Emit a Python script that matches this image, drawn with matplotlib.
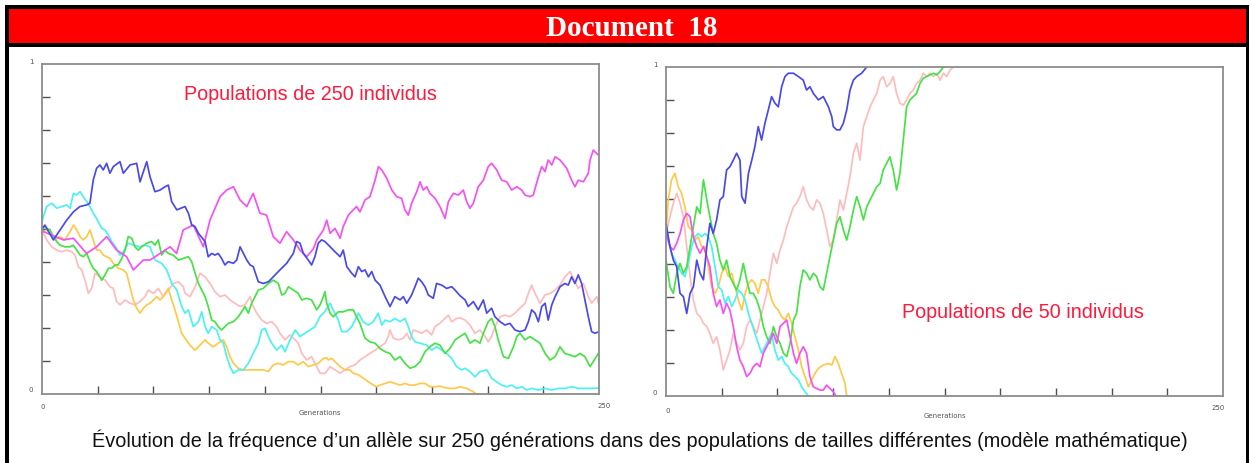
import matplotlib
matplotlib.use("Agg")
import matplotlib.pyplot as plt
from matplotlib.patches import Rectangle

# ---------------- data (generation, allele frequency) ----------------
LEFT_BLUE = [(0,.50),(1.3,.512),(5.1,.467),(8.1,.497),(11.1,.527),(14.1,.552),(17,.568),(20,.573),(21.5,.578),(23,.648),(24.5,.684),(26,.694),(27.5,.679),(29,.699),(30.5,.669),(32,.689),(35,.704),(36.5,.669),(39.5,.694),(42.5,.699),(44,.643),(47,.704),(48.5,.658),(50.7,.613),(53,.618),(55.2,.628),(56.7,.633),(58.2,.583),(60.5,.558),(64.2,.568),(65.7,.548),(67.2,.512),(68.7,.507),(70.2,.487),(73.2,.462),(74.6,.416),(76.2,.426),(77.6,.421),(79.1,.426),(80.6,.411),(82.1,.391),(83.6,.401),(85.9,.396),(87.4,.406),(88.9,.446),(90.4,.426),(91.9,.406),(93.4,.391),(94.8,.386),(97.1,.340),(99.3,.335),(101.6,.340),(103.8,.355),(106.8,.376),(109.8,.396),(112.8,.426),(114.3,.462),(115.8,.457),(117.3,.426),(119.5,.406),(121,.391),(122.5,.416),(124,.457),(125.5,.467),(127,.462),(129.3,.446),(131.5,.431),(133.8,.416),(135.2,.436),(136.8,.386),(139,.366),(140.5,.355),(142,.386),(143.5,.371),(145,.376),(146.5,.355),(148,.371),(149.5,.345),(151.7,.330),(154,.295),(156.2,.265),(158.4,.295),(160.7,.285),(162.2,.295),(163.7,.275),(165.9,.300),(167.4,.325),(168.9,.351),(170.4,.340),(171.9,.325),(173.4,.300),(175.6,.290),(177.1,.335),(179.4,.330),(181.6,.320),(183.9,.325),(185.4,.315),(187.6,.298),(189.9,.285),(191.3,.265),(193.6,.280),(195.8,.255),(198.1,.285),(199.6,.245),(201.8,.260),(203.3,.234),(205.6,.219),(207.8,.209),(210,.214),(212.3,.194),(214.5,.189),(216.8,.194),(218.3,.219),(219.8,.255),(221.3,.245),(222.8,.219),(224.3,.265),(225.8,.275),(227.2,.224),(228.8,.270),(230.3,.295),(232.5,.325),(234.7,.335),(236.2,.330),(237.7,.355),(239.2,.335),(240.7,.361),(242.2,.335),(243.7,.285),(245.2,.234),(246.7,.189),(248.2,.184),(250,.189)]

LEFT_MAGENTA = [(0,.50),(0.6,.492),(9.6,.467),(14.1,.472),(20,.426),(24.5,.446),(29,.477),(33.5,.436),(38,.416),(41,.376),(42.5,.386),(45.5,.406),(48.5,.406),(53,.426),(57.5,.446),(60.4,.426),(63.4,.497),(67.9,.512),(72.4,.446),(75.4,.527),(79.9,.598),(82.9,.618),(85.9,.628),(88.9,.588),(91.9,.568),(94.8,.608),(97.8,.548),(100.8,.542),(103.8,.477),(106.8,.457),(109.8,.492),(112.8,.467),(115.8,.436),(118.8,.416),(121.8,.440),(123.3,.467),(126.3,.497),(127.8,.527),(129.3,.487),(131.5,.502),(133.8,.472),(135.2,.507),(137.5,.542),(139.7,.558),(141.2,.568),(142.7,.552),(145,.588),(147.2,.598),(149.5,.648),(151,.689),(152.5,.679),(154.7,.654),(157,.618),(159.2,.598),(161.4,.593),(162.9,.558),(164.4,.542),(165.9,.578),(168.2,.613),(169.7,.643),(171.1,.618),(172.7,.628),(174.1,.608),(176.4,.593),(178.6,.568),(180.9,.532),(182.4,.583),(184.6,.608),(186.9,.603),(189.1,.618),(190.6,.583),(192.1,.563),(193.6,.578),(195.8,.628),(198.1,.648),(200.3,.689),(201.8,.699),(204.1,.679),(206.3,.648),(208.6,.643),(210.8,.618),(213.1,.628),(215.3,.618),(216.8,.603),(219,.598),(220.5,.603),(222.8,.658),(224.3,.689),(225.8,.674),(227.2,.709),(228.8,.694),(230.3,.719),(232.5,.709),(235.5,.684),(237.7,.648),(239.2,.628),(240.7,.648),(243,.643),(245.2,.669),(246,.709),(247.4,.739),(249.7,.724)]

LEFT_CYAN = [(0,.52),(0.6,.537),(2.1,.568),(4.4,.578),(6.6,.563),(8.8,.568),(11.1,.573),(12.6,.563),(14.1,.608),(15.6,.603),(17.1,.613),(18.5,.598),(20.1,.583),(21.5,.568),(23,.548),(24.5,.532),(26.8,.502),(28.3,.497),(29.8,.482),(31.3,.462),(33.5,.441),(35,.421),(36.5,.431),(38.7,.457),(41,.451),(44,.446),(46.2,.451),(48.5,.446),(50.7,.406),(52.2,.401),(53.7,.396),(56,.376),(58.2,.335),(60.5,.315),(62.7,.265),(64.2,.245),(65.7,.255),(67.9,.204),(70.2,.219),(71.7,.249),(73.2,.204),(74.6,.184),(76.2,.204),(78.4,.194),(79.9,.164),(81.4,.154),(82.9,.113),(84.4,.083),(85.9,.063),(88.1,.073),(90.4,.073),(92.6,.093),(94.8,.123),(97.1,.154),(98.6,.194),(100.1,.199),(101.6,.174),(103.1,.154),(105.3,.133),(107.6,.148),(109.1,.128),(111.3,.164),(113.6,.194),(115.8,.174),(118,.184),(120.3,.194),(122.5,.204),(124.8,.235),(127,.250),(129.3,.275),(130.7,.255),(133,.224),(134.5,.189),(136.8,.189),(139,.204),(140.5,.224),(142,.245),(144.2,.219),(146.5,.209),(148.7,.219),(150.9,.245),(152.5,.209),(154,.224),(156.2,.219),(158.4,.229),(160.7,.219),(162.9,.229),(164.4,.204),(165.9,.174),(167.4,.158),(169.7,.154),(172.7,.148),(174.9,.133),(177.1,.143),(179.4,.133),(181.6,.123),(183.9,.108),(186.1,.083),(188.4,.073),(189.9,.078),(192.1,.068),(194.3,.052),(196.6,.068),(199.6,.073),(201.8,.048),(204.1,.037),(206.3,.027),(208.6,.022),(210.8,.027),(213.1,.017),(215.3,.022),(217.6,.012),(219.8,.017),(222.8,.012),(225.8,.017),(228.8,.012),(231.7,.017),(234.7,.017),(237.7,.022),(240.7,.017),(243.7,.017),(246.7,.017),(250,.018)]

LEFT_GREEN = [(0,.50),(0.6,.507),(2.1,.502),(3.6,.497),(5.1,.477),(6.6,.462),(8.1,.451),(10.3,.446),(12.6,.446),(14.1,.451),(15.6,.436),(17.1,.421),(18.5,.416),(20.1,.426),(21.5,.401),(23,.381),(24.5,.371),(26,.355),(26.8,.345),(28.3,.361),(29.8,.381),(31.3,.381),(32.8,.391),(34.2,.391),(35.8,.411),(37.3,.436),(38.7,.477),(40.3,.472),(41.7,.446),(43.2,.436),(44.7,.446),(47,.457),(49.2,.462),(50.7,.451),(52.2,.467),(53.7,.421),(55.2,.436),(56.7,.426),(58.9,.421),(61.2,.406),(63.4,.411),(65.7,.416),(67.2,.401),(68.7,.366),(70.2,.335),(71.7,.315),(73.2,.295),(74.6,.265),(76.2,.224),(77.6,.219),(79.1,.204),(80.6,.194),(82.1,.204),(83.6,.214),(85.9,.219),(88.1,.234),(89.6,.249),(91.1,.265),(92.6,.245),(94.1,.275),(95.6,.295),(97.1,.315),(99.3,.320),(101.6,.335),(103.8,.345),(106.1,.335),(107.6,.300),(109.1,.305),(110.6,.325),(112.8,.315),(115,.305),(116.6,.285),(118.8,.290),(121,.285),(123.3,.255),(124.8,.270),(126.3,.295),(127,.310),(127.8,.275),(129.3,.245),(130.7,.234),(133,.249),(135.2,.249),(137.5,.255),(139.7,.255),(141.2,.234),(142.7,.214),(145,.169),(147.2,.158),(149.5,.154),(151.7,.138),(154,.128),(156.2,.123),(158.4,.103),(160.7,.113),(162.9,.093),(165.2,.078),(167.4,.083),(169.7,.098),(171.9,.128),(174.1,.143),(176.4,.154),(178.6,.148),(180.9,.123),(183.1,.138),(185.4,.164),(187.6,.174),(189.9,.184),(192.1,.154),(194.3,.164),(196.6,.154),(198.1,.184),(200.3,.219),(201.8,.229),(203.3,.204),(204.8,.164),(207.1,.113),(209.3,.108),(211.6,.143),(213.1,.174),(214.5,.184),(216.8,.164),(219,.174),(221.3,.164),(223.5,.154),(225.8,.123),(228,.103),(230.3,.113),(232.5,.143),(234.7,.123),(237,.118),(239.2,.113),(241.5,.123),(243.7,.113),(246,.083),(247.4,.098),(249.7,.123)]

LEFT_ORANGE = [(0,.50),(0.6,.492),(2.1,.497),(3.6,.487),(5.8,.467),(8.1,.477),(10.3,.467),(12.6,.492),(14.1,.512),(15.6,.497),(17.1,.477),(18.5,.467),(20.1,.477),(21.5,.497),(23,.467),(24.5,.436),(26,.436),(27.5,.421),(29,.416),(30.5,.411),(32,.396),(34.2,.381),(36.5,.376),(38,.366),(39.5,.325),(41,.285),(42.5,.260),(44,.245),(45.5,.260),(47,.270),(48.5,.275),(50,.285),(51.5,.295),(53,.285),(54.4,.295),(56.7,.320),(58.2,.285),(59.7,.255),(61.2,.219),(62.7,.184),(64.2,.169),(66.4,.148),(68.7,.133),(70.9,.148),(73.2,.164),(74.6,.154),(76.9,.143),(79.1,.154),(81.4,.164),(82.9,.143),(84.4,.113),(85.9,.093),(88.1,.078),(90.4,.073),(92.6,.073),(94.8,.073),(97.1,.073),(99.3,.073),(101.6,.068),(103.8,.088),(106.1,.093),(108.3,.088),(110.6,.098),(112.8,.098),(115,.088),(117.3,.098),(119.5,.083),(121.8,.088),(124,.093),(126.3,.108),(127.8,.110),(128.5,.103),(130,.108),(132.3,.093),(133.8,.083),(136,.073),(138.2,.073),(139.7,.063),(142,.058),(144.2,.048),(146.5,.037),(148.7,.027),(150.2,.022),(151.7,.027),(154,.032),(156.2,.037),(158.4,.032),(160.7,.027),(162.9,.032),(165.2,.027),(167.4,.027),(169.7,.032),(171.9,.032),(174.1,.022),(176.4,.022),(178.6,.024),(180.9,.019),(183.1,.017),(185.4,.017),(187.6,.022),(190.6,.017),(193.6,.007),(194.8,0)]

LEFT_PINK = [(0,.50),(0.6,.487),(2.1,.467),(4.4,.446),(6.6,.436),(8.8,.431),(11.1,.436),(13.3,.431),(14.8,.421),(16.3,.386),(17.8,.376),(19.3,.345),(20.8,.305),(22.3,.320),(23.8,.366),(26,.355),(28.3,.345),(30.5,.325),(32,.320),(33.5,.280),(35,.270),(37.3,.285),(39.5,.275),(41.7,.270),(44,.280),(46.2,.295),(47.7,.315),(50,.305),(52.2,.320),(54.4,.295),(56.7,.315),(58.9,.335),(61.2,.340),(63.4,.325),(64.2,.305),(66.4,.295),(68.7,.325),(70.9,.366),(73.2,.355),(75.4,.335),(77.6,.310),(79.9,.295),(82.1,.300),(84.4,.285),(86.6,.275),(88.9,.265),(91.1,.270),(93.4,.295),(94.8,.265),(96.4,.245),(98.6,.224),(100.8,.214),(103.1,.219),(105.3,.204),(106.8,.184),(109.1,.164),(111.3,.179),(113.6,.164),(115,.154),(116.6,.123),(118.8,.103),(121,.113),(123.3,.083),(124.8,.063),(127,.062),(129.3,.083),(131.5,.073),(133.8,.063),(136,.073),(138.2,.083),(140.5,.088),(142.7,.103),(145,.113),(147.2,.123),(149.5,.133),(151.7,.143),(154,.154),(155.4,.174),(156.2,.194),(157.7,.169),(159.9,.164),(162.2,.169),(163.7,.184),(165.2,.164),(166.6,.194),(168.9,.189),(170.4,.184),(172.7,.194),(174.9,.179),(176.4,.204),(178.6,.214),(180.1,.224),(182.4,.239),(183.9,.219),(186.1,.229),(187.6,.231),(189.9,.224),(192.1,.209),(194.3,.184),(196.6,.194),(198.9,.174),(200.3,.158),(201.8,.174),(203.3,.204),(205.6,.234),(207.8,.239),(210,.234),(212.3,.245),(214.5,.260),(216.8,.275),(218.3,.305),(219.8,.330),(221.3,.305),(223.5,.275),(225.8,.300),(228,.305),(230.3,.315),(232.5,.330),(234.7,.355),(237,.371),(238.5,.351),(240.7,.320),(243,.335),(245.2,.295),(246.7,.275),(249,.295),(250,.270)]

RIGHT_BLUE = [(0,.525),(1.8,.454),(3.3,.413),(4.8,.393),(6.3,.312),(7.8,.302),(9.3,.251),(10.8,.312),(12.3,.332),(13.8,.413),(15.3,.373),(16.8,.353),(18.3,.454),(19.7,.525),(21.2,.494),(22.7,.535),(24.2,.596),(25.7,.606),(27.2,.687),(28.7,.697),(30.2,.717),(31.7,.738),(33.2,.717),(34,.606),(35.5,.586),(37,.677),(38.5,.717),(39.9,.758),(41.4,.819),(42.9,.778),(44.4,.829),(45.9,.869),(47.4,.910),(48.9,.890),(50.4,.879),(51.9,.940),(53.4,.971),(54.9,.981),(57.2,.981),(59.4,.971),(61.6,.960),(63.1,.930),(64.6,.940),(66.1,.920),(68.4,.900),(70.6,.910),(72.9,.879),(74.4,.849),(75.1,.819),(76.6,.809),(78.1,.809),(79.6,.829),(81.1,.869),(82.6,.930),(84.1,.960),(85.6,.971),(87.8,.981),(90.1,1.0)]

RIGHT_PINK = [(0,.494),(1.8,.545),(3.3,.586),(4.8,.616),(6.3,.586),(7.8,.545),(9.3,.454),(10.8,.363),(12.3,.292),(13.8,.251),(15.3,.241),(16.8,.221),(18.3,.211),(19.7,.190),(21.2,.160),(22.7,.180),(24.2,.140),(25.7,.079),(27.2,.109),(28.7,.140),(30.2,.190),(31.7,.160),(33.2,.140),(34.7,.160),(36.2,.211),(37.7,.231),(39.2,.211),(40.7,.190),(42.2,.231),(43.7,.272),(45.2,.312),(46.7,.373),(48.2,.434),(49.7,.403),(51.2,.444),(52.7,.474),(54.2,.515),(55.7,.545),(57.2,.575),(58.6,.586),(60.1,.606),(61.6,.636),(63.1,.596),(64.6,.575),(66.1,.565),(67.6,.596),(69.1,.586),(70.6,.555),(72.1,.505),(73.6,.454),(75.1,.474),(76.6,.535),(78.1,.596),(79.6,.565),(81.1,.616),(82.6,.667),(84.1,.738),(85.6,.768),(87.1,.717),(88.6,.819),(90.1,.849),(91.6,.879),(93.1,.900),(94.6,.920),(96.1,.960),(97.5,.971),(99,.940),(100.5,.950),(102,.971),(103.5,.920),(105,.890),(106.5,.884),(108,.900),(109.5,.920),(111,.930),(112.5,.950),(114,.960),(115.5,.981),(117,.971),(118.5,.981),(120,.971),(121.5,.981),(123,.960),(124.5,.981),(126,.971),(127.5,.991),(129,1.0)]

RIGHT_GREEN = [(0,.413),(1.8,.332),(3.3,.312),(4.8,.373),(6.3,.403),(7.8,.373),(9.3,.393),(10.8,.454),(12.3,.515),(13.8,.575),(15.3,.555),(16,.606),(16.8,.657),(18.3,.596),(19.7,.545),(21.2,.494),(22.7,.464),(24.2,.413),(25.7,.383),(27.2,.413),(28.7,.363),(30.2,.342),(31.7,.322),(33.2,.353),(34.7,.403),(36.2,.353),(37.7,.312),(39.2,.312),(40.7,.292),(42.2,.261),(43.7,.211),(45.2,.180),(46.7,.160),(48.2,.211),(49.7,.180),(51.2,.160),(52.7,.130),(54.2,.120),(55.7,.160),(57.2,.231),(58.6,.251),(60.1,.332),(61.6,.383),(63.1,.373),(64.6,.353),(66.1,.373),(67.6,.363),(69.1,.332),(70.6,.322),(72.1,.373),(73.6,.424),(75.1,.474),(76.6,.525),(78.1,.545),(79.6,.505),(81.1,.474),(82.6,.515),(84.1,.565),(85.6,.606),(87.1,.575),(88.6,.535),(90.1,.575),(91.6,.596),(93.1,.616),(94.6,.636),(96.1,.646),(97.5,.687),(99,.707),(100.5,.727),(102,.687),(103.5,.626),(105,.677),(106.5,.778),(108,.879),(109.5,.900),(111,.910),(112.5,.920),(114,.950),(115.5,.966),(117,.971),(118.5,.976),(120,.981),(121.5,.976),(123,.986),(124.5,1.0)]

RIGHT_ORANGE = [(0,.494),(1,.596),(2.5,.657),(4,.677),(5.5,.636),(7,.616),(8.5,.575),(10,.515),(11.5,.505),(13,.474),(14.5,.484),(16,.454),(17.5,.454),(19,.393),(20.5,.332),(22,.312),(23.5,.332),(25,.373),(26.5,.393),(28,.363),(29.5,.373),(31,.332),(32.5,.292),(34,.261),(35.5,.312),(37,.342),(38.5,.353),(39.9,.342),(41.4,.312),(42.9,.353),(44.4,.353),(45.9,.332),(47.4,.292),(48.9,.272),(50.4,.261),(51.9,.241),(53.4,.231),(54.9,.251),(56.4,.221),(57.9,.180),(59.4,.140),(60.9,.089),(62.4,.059),(63.9,.028),(65.4,.049),(66.9,.069),(68.4,.084),(70.6,.094),(72.9,.099),(74.4,.094),(75.9,.120),(77.3,.099),(78.8,.069),(80.3,.039),(81.1,0)]

RIGHT_MAGENTA = [(0,.494),(1.8,.454),(3.3,.444),(4.8,.464),(6.3,.494),(7.8,.535),(9.3,.555),(10.8,.545),(12.3,.484),(13.8,.454),(15.3,.434),(16.8,.454),(18.3,.424),(19.7,.393),(21.2,.312),(22.7,.272),(24.2,.292),(25.7,.251),(27.2,.282),(28.7,.261),(30.2,.211),(31.7,.150),(33.2,.109),(34.7,.089),(36.2,.059),(37.7,.069),(39.2,.089),(40.7,.099),(42.2,.089),(43.7,.130),(45.2,.150),(46.7,.170),(48.2,.190),(49.7,.160),(51.2,.211),(52.7,.221),(54.2,.231),(55.7,.180),(57.2,.130),(58.6,.099),(60.1,.130),(61.6,.150),(63.1,.130),(64.6,.059),(66.1,.028),(67.6,.023),(69.1,.018),(70.6,.018),(72.1,.033),(73.6,.023),(75.1,.013),(76.3,0)]

RIGHT_CYAN = [(0,.515),(1,.474),(2.5,.434),(4,.413),(5.5,.393),(7,.373),(8.5,.363),(10,.403),(11.5,.454),(13,.484),(14.5,.494),(16,.484),(17.5,.494),(19,.484),(20.5,.454),(22,.393),(23.5,.332),(25,.322),(26.5,.282),(28,.302),(29.5,.272),(31,.292),(32.5,.322),(34,.312),(35.5,.292),(37,.251),(38.5,.221),(39.9,.190),(41.4,.160),(42.9,.130),(44.4,.150),(45.9,.170),(47.4,.190),(48.9,.140),(50.4,.109),(51.9,.120),(53.4,.099),(54.9,.089),(56.4,.069),(57.9,.059),(59.4,.049),(60.9,.028),(62.4,.013),(63.9,0)]

COLORS = {"blue": "#4a4ae8", "magenta": "#f552f5", "cyan": "#4cf2f2",
          "green": "#46e246", "orange": "#ffc94a", "pink": "#ffbcbc"}

LEFT_SERIES = [("pink", LEFT_PINK), ("orange", LEFT_ORANGE), ("cyan", LEFT_CYAN),
               ("green", LEFT_GREEN), ("magenta", LEFT_MAGENTA), ("blue", LEFT_BLUE)]
RIGHT_SERIES = [("pink", RIGHT_PINK), ("orange", RIGHT_ORANGE), ("cyan", RIGHT_CYAN),
                ("green", RIGHT_GREEN), ("magenta", RIGHT_MAGENTA), ("blue", RIGHT_BLUE)]

HEADER = "Document  18"
LEFT_TITLE = "Populations de 250 individus"
RIGHT_TITLE = "Populations de 50 individus"
CAPTION = ("Évolution de la fréquence d’un allèle sur 250 générations dans des "
           "populations de tailles différentes (modèle mathématique)")
X_LABEL = "Generations"
GEN_MAX = 250

# ---------------- figure ----------------
W, H = 1251, 463
fig = plt.figure(figsize=(W / 100, H / 100), dpi=100)
fig.patch.set_facecolor("white")

bg = fig.add_axes([0, 0, 1, 1])
bg.set_xlim(0, W)
bg.set_ylim(H, 0)
bg.axis("off")

# frame, red band
bg.add_patch(Rectangle((5, 5), 1244, 4, color="black", lw=0))
bg.add_patch(Rectangle((8, 9), 1238, 34, color="#ff0000", lw=0))
bg.add_patch(Rectangle((5, 43), 1244, 4, color="black", lw=0))
bg.add_patch(Rectangle((5, 5), 3.5, H - 5, color="black", lw=0))
bg.add_patch(Rectangle((1245.5, 5), 3.5, H - 5, color="black", lw=0))

bg.text(632, 28, HEADER, color="white", fontsize=21, fontweight="bold",
        family="Liberation Serif", ha="center", va="center")
bg.text(640, 440, CAPTION, color="#111111", fontsize=14.3,
        family="Liberation Sans", ha="center", va="center")


def make_panel(rect, series, title, title_xy):
    ax = fig.add_axes(rect)
    for name, pts in series:
        g = [p[0] for p in pts]
        f = [p[1] for p in pts]
        ax.plot(g, f, color=COLORS[name], lw=1.25, solid_joinstyle="round")
    ax.set_xlim(0, GEN_MAX)
    ax.set_ylim(0, 1)
    ax.set_xticks([25 * i for i in range(1, 10)])
    ax.set_yticks([i / 10 for i in range(1, 10)])
    ax.tick_params(direction="in", length=5.5, width=1.0, color="#505050",
                   labelbottom=False, labelleft=False)
    for s in ax.spines.values():
        s.set_color("#8c8c8c")
        s.set_linewidth(1.3)
    ax.text(title_xy[0], title_xy[1], title, transform=ax.transAxes,
            color="#ff1a3c", fontsize=14.2, family="Liberation Sans",
            ha="center", va="center")
    return ax


make_panel([42 / W, 1 - 394 / H, 557 / W, 330 / H], LEFT_SERIES, LEFT_TITLE,
           ((310 - 42) / 557, (394 - 95) / 330))
make_panel([666 / W, 1 - 396 / H, 557 / W, 329 / H], RIGHT_SERIES, RIGHT_TITLE,
           ((1023 - 666) / 557, (396 - 313) / 329))

small = dict(color="#555555", fontsize=5, family="DejaVu Sans", ha="center", va="center")
for x, y, s in [(31, 62, "1"), (31, 390, "0"), (43, 407, "0"), (604, 406, "250"),
                (320, 413, X_LABEL), (655, 65, "1"), (655, 393, "0"),
                (668, 411, "0"), (1218, 408, "250"), (945, 416, X_LABEL)]:
    bg.text(x, y, s, **small)

fig.savefig("out.png", dpi=100, facecolor="white")
